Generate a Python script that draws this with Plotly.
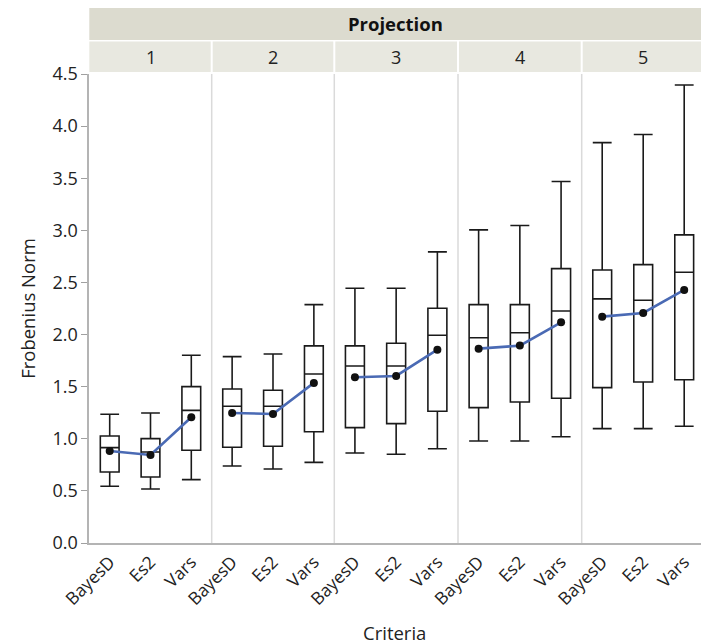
import plotly.graph_objects as go

# Frobenius norm summaries by projection and criterion
projections = ["1", "2", "3", "4", "5"]
criteria = ["BayesD", "Es2", "Vars"]

lower_whisker = [
    [0.544, 0.518, 0.608],
    [0.739, 0.710, 0.774],
    [0.864, 0.851, 0.905],
    [0.979, 0.979, 1.020],
    [1.097, 1.097, 1.120],
]
q1 = [
    [0.681, 0.633, 0.890],
    [0.918, 0.928, 1.068],
    [1.107, 1.145, 1.264],
    [1.299, 1.353, 1.389],
    [1.491, 1.545, 1.567],
]
median = [
    [0.915, 0.873, 1.273],
    [1.312, 1.312, 1.622],
    [1.699, 1.699, 1.993],
    [1.970, 2.018, 2.226],
    [2.342, 2.329, 2.598],
]
q3 = [
    [1.027, 1.001, 1.500],
    [1.478, 1.465, 1.891],
    [1.891, 1.916, 2.252],
    [2.287, 2.287, 2.633],
    [2.620, 2.671, 2.956],
]
upper_whisker = [
    [1.235, 1.248, 1.801],
    [1.788, 1.814, 2.287],
    [2.444, 2.444, 2.793],
    [3.004, 3.046, 3.468],
    [3.842, 3.919, 4.395],
]
means = [
    [0.883, 0.845, 1.206],
    [1.248, 1.238, 1.536],
    [1.590, 1.603, 1.855],
    [1.865, 1.894, 2.118],
    [2.172, 2.207, 2.428],
]
y_ticks = [0.0, 0.5, 1.0, 1.5, 2.0, 2.5, 3.0, 3.5, 4.0, 4.5]

W, H = 701, 644
ML, MT, MB = 89, 74, 101
plot_w = W - ML
plot_h = H - MT - MB
panel_px = [89.3, 211.7, 334.3, 458.0, 581.7, 704.7]
FONT = "Open Sans"
TXT = "#222222"


def px_x(p):
    return (p - ML) / plot_w


def px_y(p):
    return (H - MB - p) / plot_h


fig = go.Figure()
layout = {}
for i, proj in enumerate(projections):
    ax = "" if i == 0 else str(i + 1)
    xref = "x" + ax
    fig.add_trace(go.Box(
        x=criteria,
        q1=q1[i], median=median[i], q3=q3[i],
        lowerfence=lower_whisker[i], upperfence=upper_whisker[i],
        xaxis=xref, yaxis="y",
        fillcolor="white",
        line=dict(color="#1a1a1a", width=1.6),
        whiskerwidth=1.0,
        width=0.46,
        boxpoints=False,
        showlegend=False,
        hoverinfo="skip",
    ))
    fig.add_trace(go.Scatter(
        x=criteria, y=means[i],
        xaxis=xref, yaxis="y",
        mode="lines+markers",
        line=dict(color="#4a6ab4", width=2.6),
        marker=dict(color="#111111", size=8),
        showlegend=False,
        hoverinfo="skip",
    ))
    d0 = max(0.0, px_x(panel_px[i]))
    d1 = min(1.0, px_x(panel_px[i + 1]))
    band = (panel_px[i + 1] - panel_px[i]) / 3.0
    right = 2.5 - max(0.0, panel_px[i + 1] - W) / band
    layout["xaxis" + ax] = dict(
        domain=[d0, d1], anchor="y",
        type="category",
        categoryorder="array", categoryarray=criteria,
        range=[-0.5, right],
        showline=True, linecolor="#b4b4b4", linewidth=2,
        showgrid=False, zeroline=False,
        ticks="", tickangle=-45,
        tickfont=dict(family=FONT, size=17.5, color=TXT),
        fixedrange=True,
    )

layout["yaxis"] = dict(
    domain=[0, 1], anchor="x",
    range=[0, 4.5],
    tickvals=y_ticks, ticktext=[f"{v:.1f}" for v in y_ticks],
    showline=True, linecolor="#b4b4b4", linewidth=2,
    ticks="outside", ticklen=6, tickcolor="#a0a0a0", tickwidth=1,
    showgrid=False, zeroline=False,
    tickfont=dict(family=FONT, size=18, color=TXT),
    title=dict(text="Frobenius Norm", font=dict(family=FONT, size=18.5, color=TXT), standoff=12),
)

shapes = []
annotations = []
# header strip across all panels
shapes.append(dict(type="rect", xref="paper", yref="paper",
                   x0=px_x(89.3), x1=1.0, y0=px_y(40), y1=px_y(8),
                   fillcolor="#dcdbcf", line=dict(width=0), layer="above"))
annotations.append(dict(text="<b>Projection</b>", xref="paper", yref="paper",
                        x=px_x(395), y=px_y(24), showarrow=False,
                        xanchor="center", yanchor="middle",
                        font=dict(family=FONT, size=18.5, color="#111111")))
for i, proj in enumerate(projections):
    x0 = px_x(panel_px[i] + (1 if i > 0 else 0))
    x1 = min(1.0, px_x(panel_px[i + 1] - 1))
    shapes.append(dict(type="rect", xref="paper", yref="paper",
                       x0=x0, x1=x1, y0=px_y(72), y1=px_y(41.5),
                       fillcolor="#e8e8e0", line=dict(width=0), layer="above"))
    cx = (panel_px[i] + panel_px[i + 1]) / 2
    annotations.append(dict(text=proj, xref="paper", yref="paper",
                            x=px_x(cx), y=px_y(56.5), showarrow=False,
                            xanchor="center", yanchor="middle",
                            font=dict(family=FONT, size=18, color=TXT)))
    if i > 0:
        shapes.append(dict(type="line", xref="paper", yref="paper",
                           x0=px_x(panel_px[i]), x1=px_x(panel_px[i]),
                           y0=0, y1=1, line=dict(color="#dadada", width=1.5),
                           layer="below"))

annotations.append(dict(text="Criteria", xref="paper", yref="paper",
                        x=px_x(394), y=px_y(632), showarrow=False,
                        xanchor="center", yanchor="middle",
                        font=dict(family=FONT, size=18.5, color=TXT)))

fig.update_layout(
    width=W, height=H,
    margin=dict(l=ML, r=0, t=MT, b=MB),
    paper_bgcolor="white", plot_bgcolor="white",
    shapes=shapes, annotations=annotations,
    **layout,
)

fig.write_html("out.html")
